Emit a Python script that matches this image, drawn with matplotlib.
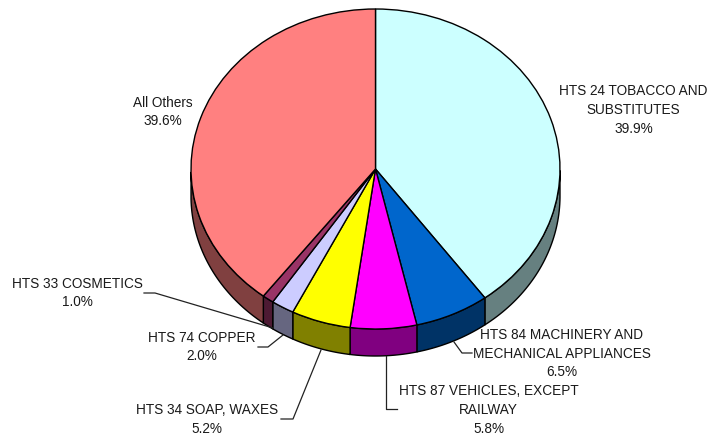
import numpy as np
import matplotlib
matplotlib.use('Agg')
import matplotlib.pyplot as plt

plt.rcParams['font.family'] = ['Liberation Sans', 'DejaVu Sans']

labels = ['HTS 24 TOBACCO AND\nSUBSTITUTES', 'HTS 84 MACHINERY AND\nMECHANICAL APPLIANCES',
          'HTS 87 VEHICLES, EXCEPT\nRAILWAY', 'HTS 34 SOAP, WAXES', 'HTS 74 COPPER',
          'HTS 33 COSMETICS', 'All Others']
shares = [39.9, 6.5, 5.8, 5.2, 2.0, 1.0, 39.6]
top_colors = ['#CCFFFF', '#0066CC', '#FF00FF', '#FFFF00', '#CCCCFF', '#993366', '#FF8080']
side_colors = ['#668080', '#003366', '#800080', '#808000', '#666680', '#4D1A33', '#804040']

W, H = 710, 438
cx, cy, rx, ry = 375.5, 169, 184.5, 160
depth = 27 / ry

fig = plt.figure(figsize=(W / 100, H / 100), dpi=100)
ax = fig.add_axes([0, 0, 1, 1])

# sides first, only the front half of each slice shows
edges = np.cumsum([0] + shares) / sum(shares) * 2 * np.pi
for k in range(len(shares)):
    t = np.linspace(edges[k], edges[k + 1], 120)
    t = t[(t > np.pi / 2) & (t < 3 * np.pi / 2)]
    if len(t) < 2:
        continue
    x = np.sin(t)
    y = np.cos(t)
    ax.fill(np.r_[x, x[::-1]], np.r_[y, y[::-1] - depth], fc=side_colors[k], ec='black', lw=1.0, zorder=1)

ax.pie(shares, colors=top_colors, startangle=90, counterclock=False, radius=1,
       wedgeprops=dict(edgecolor='black', linewidth=1.0, zorder=2))

# pie forces equal aspect, the tilt needs it squashed
ax.set_aspect('auto')
ax.set_xlim((0 - cx) / rx, (W - cx) / rx)
ax.set_ylim((cy - H) / ry, cy / ry)
ax.set_axis_off()


def put(px, py, s):
    fig.text(px / W, 1 - py / H, s, ha='center', va='center', fontsize=9.8, color='#1a1a1a', linespacing=1.45)


def leader(xs, ys):
    fig.add_artist(plt.Line2D(np.array(xs) / W, 1 - np.array(ys) / H, color='#222222', lw=0.9))


put(633.5, 110, labels[0] + '\n%.1f%%' % shares[0])
put(562, 353.5, labels[1] + '\n%.1f%%' % shares[1])
put(488.5, 410, labels[2] + '\n%.1f%%' % shares[2])
put(207, 419.5, labels[3] + '\n%.1f%%' % shares[3])
put(201.5, 347, labels[4] + '\n%.1f%%' % shares[4])
put(77, 293, labels[5] + '\n%.1f%%' % shares[5])
put(163, 112, labels[6] + '\n%.1f%%' % shares[6])

leader([454, 462, 472], [342, 353, 353])
leader([386, 386, 397], [356, 409, 409])
leader([321, 293, 281], [350, 419, 419])
leader([283, 268, 258], [335, 347, 347])
leader([144, 155, 273], [293, 293, 328])

fig.savefig('out.png', dpi=100)
